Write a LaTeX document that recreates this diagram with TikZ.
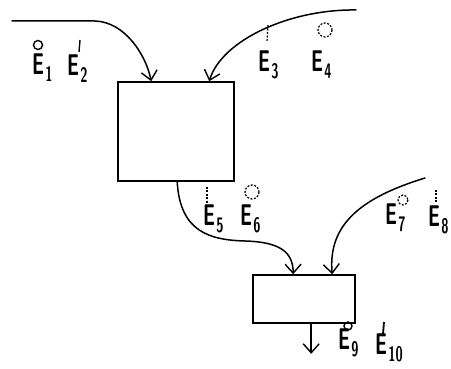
\documentclass[tikz,border=0pt]{standalone}
\usetikzlibrary{arrows.meta,calc}
\begin{document}
\begin{tikzpicture}[x=1pt,y=-1pt,
  boxnode/.style={draw,line width=1.6pt,inner sep=0pt},
  flow/.style={line width=1.5pt,line cap=round,-{Straight Barb[length=9pt,width=16pt,line width=1.4pt]}},
  elab/.style={anchor=base west,inner sep=0pt,font=\sffamily\bfseries\fontsize{30}{30}\selectfont},
  solidmark/.style={line width=1.4pt},
  dashmark/.style={line width=1.2pt,dash pattern=on 2pt off 1.5pt}]
\useasboundingbox[fill=white] (0,0) rectangle (451,369);
% boxes
\node[boxnode,minimum width=116pt,minimum height=99pt] (b1) at (176,131.5) {};
\node[boxnode,minimum width=102pt,minimum height=48pt] (b2) at (304,299) {};
% free ends
\coordinate (s1) at (12,21);
\coordinate (s2) at (356,10);
\coordinate (s4) at (425,178);
\coordinate (s5) at ($(b2.south west)+(59,30)$);
% connectors
\draw[flow] (s1) -- (95,21) .. controls (125,22) and (146,55) .. ($(b1.north west)+(34,0)$);
\draw[flow] (s2) .. controls (290,9) and (222,40) .. ($(b1.north west)+(92,0)$);
\draw[flow] ($(b1.south west)+(60,0)$) .. controls (180,232) and (210,240) .. (245,241) .. controls (280,242) and (293,252) .. ($(b2.north west)+(41,0)$);
\draw[flow] (s4) .. controls (360,198) and (328,225) .. ($(b2.north west)+(80,0)$);
\draw[flow] ($(b2.south west)+(59,0)$) -- (s5);
% labels
\newcommand{\elabtext}[1]{\scalebox{0.62}[1]{E\kern2pt\raisebox{-7pt}{\fontsize{21}{21}\selectfont #1}}}
\node[elab] (e1) at (32,75) {\elabtext{1}};
\node[elab] (e2) at (67,76) {\elabtext{2}};
\node[elab] (e3) at (258,72) {\elabtext{3}};
\node[elab] (e4) at (311,72) {\elabtext{4}};
\node[elab] (e5) at (203,226) {\elabtext{5}};
\node[elab] (e6) at (240,226) {\elabtext{6}};
\node[elab] (e7) at (385,225) {\elabtext{7}};
\node[elab] (e8) at (428,227) {\elabtext{8}};
\node[elab] (e9) at (338,350) {\elabtext{9}};
\node[elab] (e10) at (375,355) {\elabtext{10}};
% accents
\draw[solidmark] (38,45) circle (4.5);
\draw[solidmark] (80,40) -- (79,52);
\draw[dashmark] (268,25) -- (267,42);
\draw[dashmark] (325,30) circle (7);
\draw[dashmark] (207,187) -- (207,204);
\draw[dashmark] (252,192) circle (7);
\draw[dashmark] (403,200) circle (5);
\draw[dashmark] (436,190) -- (436,203);
\draw[solidmark] (348,326) circle (4);
\draw[solidmark,line width=1.8pt] (384,322) -- (383,334);
\end{tikzpicture}
\end{document}
